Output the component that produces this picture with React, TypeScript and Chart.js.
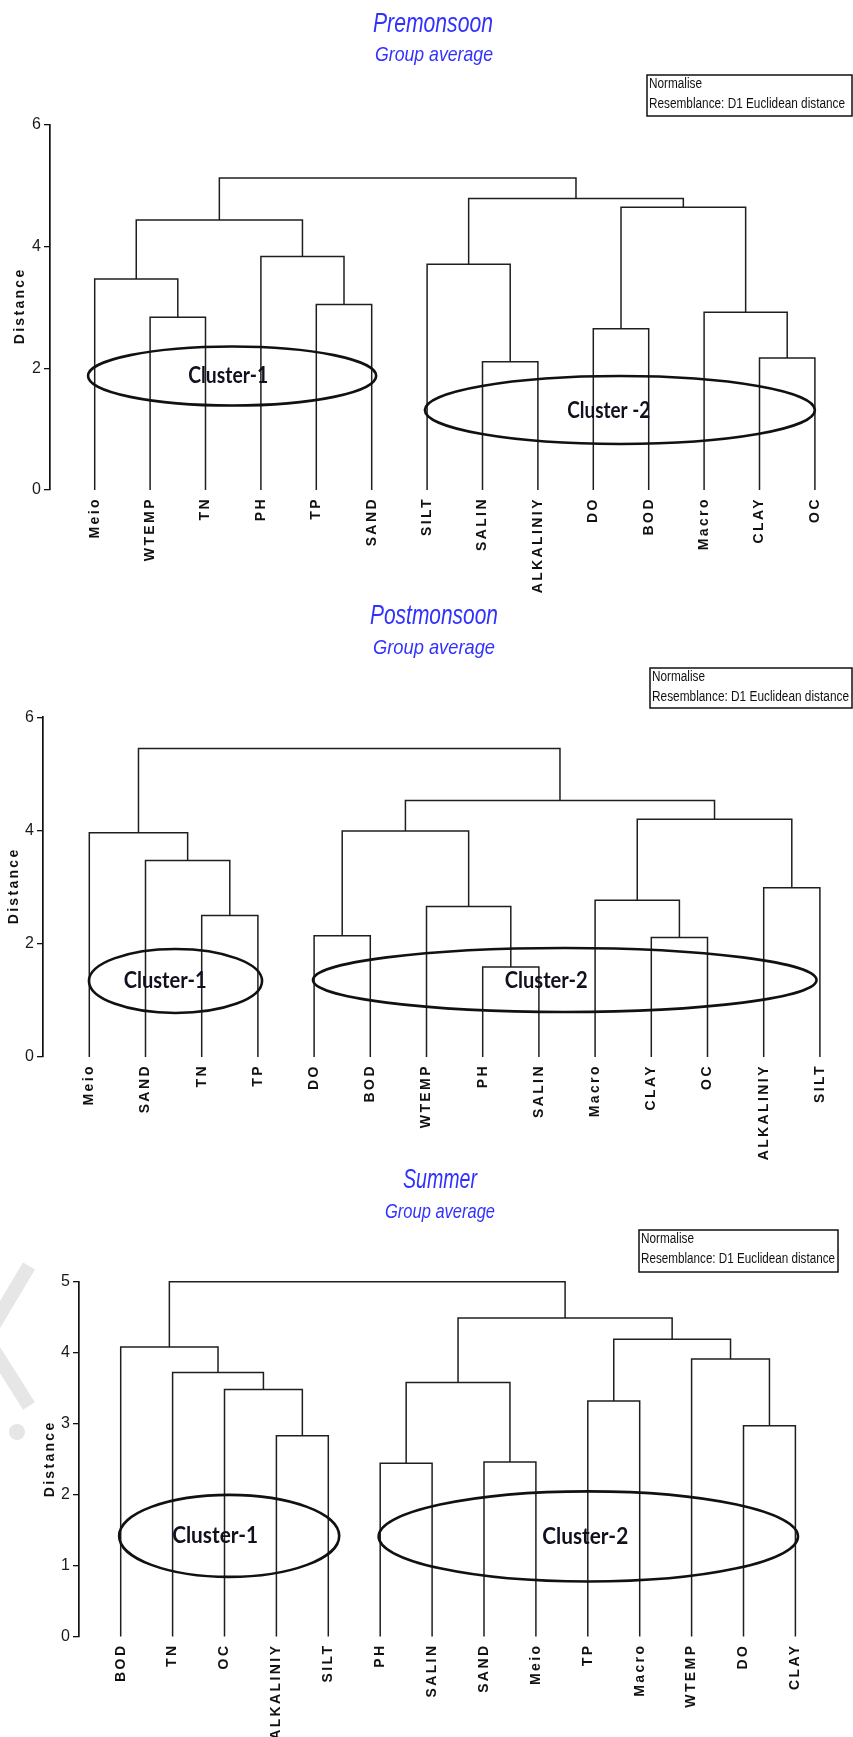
import React, { useEffect, useRef } from "react";
import { Chart, registerables } from "chart.js";

Chart.register(...registerables);

/* ------------------------------------------------------------------ */
/* DATA  (leaf order, merges in linkage form: child indices + height)  */
/* indices < 14 are leaves, 14 + k is the k-th merge                   */
/* ------------------------------------------------------------------ */

// Premonsoon
const preLeaves = ["Meio", "WTEMP", "TN", "PH", "TP", "SAND", "SILT", "SALIN", "ALKALINIY", "DO", "BOD", "Macro", "CLAY", "OC"];
const preLeft = [1, 0, 4, 3, 15, 7, 6, 9, 12, 11, 21, 20, 18];
const preRight = [2, 14, 5, 16, 17, 8, 19, 10, 13, 22, 23, 24, 25];
const preHeight = [2.84, 3.47, 3.05, 3.84, 4.44, 2.11, 3.71, 2.65, 2.17, 2.92, 4.65, 4.79, 5.13];
const preTicks = [0, 2, 4, 6];

// Postmonsoon
const postLeaves = ["Meio", "SAND", "TN", "TP", "DO", "BOD", "WTEMP", "PH", "SALIN", "Macro", "CLAY", "OC", "ALKALINIY", "SILT"];
const postLeft = [2, 1, 0, 4, 7, 6, 17, 10, 9, 12, 22, 20, 16];
const postRight = [3, 14, 15, 5, 8, 18, 19, 11, 21, 13, 23, 24, 25];
const postHeight = [2.5, 3.47, 3.96, 2.14, 1.59, 2.66, 3.99, 2.11, 2.77, 2.99, 4.2, 4.53, 5.45];
const postTicks = [0, 2, 4, 6];

// Summer
const sumLeaves = ["BOD", "TN", "OC", "ALKALINIY", "SILT", "PH", "SALIN", "SAND", "Meio", "TP", "Macro", "WTEMP", "DO", "CLAY"];
const sumLeft = [3, 2, 1, 0, 5, 7, 18, 9, 12, 11, 21, 20, 17];
const sumRight = [4, 14, 15, 16, 6, 8, 19, 10, 13, 22, 23, 24, 25];
const sumHeight = [2.83, 3.48, 3.72, 4.08, 2.44, 2.46, 3.58, 3.32, 2.97, 3.91, 4.19, 4.49, 5.0];
const sumTicks = [0, 1, 2, 3, 4, 5];

const subtitleText = "Group average";
const boxLine1 = "Normalise";
const boxLine2 = "Resemblance: D1 Euclidean distance";
const axisTitle = "Distance";

/* ------------------------------------------------------------------ */
/* LAYOUT / STYLE                                                      */
/* ------------------------------------------------------------------ */

const SANS = "'Liberation Sans', Arial, Helvetica, sans-serif";
const TITLE_COLOR = "#3131ff";
const LINE_COLOR = "#1f1f1f";
const PAGE_W = 853;
const PLOT_RIGHT = 848;

type Cluster = { text: string; cx: number; cy: number; rx: number; ry: number; tx: number; tw: number };
type Panel = {
  key: string;
  leaves: string[];
  left: number[];
  right: number[];
  heights: number[];
  ticks: number[];
  top: number;
  canvasH: number;
  axisX: number;
  plotTop: number;
  plotBottom: number;
  leaf0: number;
  leafStep: number;
  title: string;
  titleX: number;
  titleY: number;
  titleW: number;
  subX: number;
  subY: number;
  subW: number;
  box: { x: number; y: number; w: number; h: number; w2: number };
  distX: number;
  distY: number;
  clusters: Cluster[];
  watermark?: boolean;
};

const panels: Panel[] = [
  {
    key: "pre",
    leaves: preLeaves,
    left: preLeft,
    right: preRight,
    heights: preHeight,
    ticks: preTicks,
    top: 0,
    canvasH: 610,
    axisX: 50,
    plotTop: 125,
    plotBottom: 490,
    leaf0: 94.7,
    leafStep: 55.4,
    title: "Premonsoon",
    titleX: 433,
    titleY: 31.5,
    titleW: 120,
    subX: 434,
    subY: 61,
    subW: 118,
    box: { x: 647, y: 75, w: 205, h: 41, w2: 196 },
    distX: 20,
    distY: 307,
    clusters: [
      { text: "Cluster-1", cx: 2.48, cy: 1.874, rx: 2.6, ry: 0.485, tx: 2.41, tw: 80 },
      { text: "Cluster -2", cx: 9.48, cy: 1.315, rx: 3.52, ry: 0.56, tx: 9.28, tw: 83 },
    ],
  },
  {
    key: "post",
    leaves: postLeaves,
    left: postLeft,
    right: postRight,
    heights: postHeight,
    ticks: postTicks,
    top: 590,
    canvasH: 580,
    axisX: 43,
    plotTop: 717.3,
    plotBottom: 1057,
    leaf0: 89.3,
    leafStep: 56.2,
    title: "Postmonsoon",
    titleX: 434,
    titleY: 624,
    titleW: 128,
    subX: 434,
    subY: 654,
    subW: 122,
    box: { x: 650, y: 668, w: 202, h: 40, w2: 197 },
    distX: 14,
    distY: 887,
    clusters: [
      { text: "Cluster-1", cx: 1.534, cy: 1.343, rx: 1.54, ry: 0.565, tx: 1.35, tw: 83 },
      { text: "Cluster-2", cx: 8.46, cy: 1.36, rx: 4.48, ry: 0.565, tx: 8.13, tw: 83 },
    ],
  },
  {
    key: "sum",
    leaves: sumLeaves,
    left: sumLeft,
    right: sumRight,
    heights: sumHeight,
    ticks: sumTicks,
    top: 1150,
    canvasH: 587,
    axisX: 79,
    plotTop: 1281.7,
    plotBottom: 1636.5,
    leaf0: 120.7,
    leafStep: 51.9,
    title: "Summer",
    titleX: 440,
    titleY: 1188,
    titleW: 74,
    subX: 440,
    subY: 1218,
    subW: 110,
    box: { x: 639, y: 1230, w: 199, h: 42, w2: 194 },
    distX: 50,
    distY: 1460,
    clusters: [
      { text: "Cluster-1", cx: 2.09, cy: 1.418, rx: 2.12, ry: 0.578, tx: 1.82, tw: 86 },
      { text: "Cluster-2", cx: 9.01, cy: 1.41, rx: 4.04, ry: 0.635, tx: 8.95, tw: 86 },
    ],
    watermark: true,
  },
];

/* ------------------------------------------------------------------ */
/* HELPERS                                                             */
/* ------------------------------------------------------------------ */

function buildDatasets(p: Panel) {
  const n = p.leaves.length;
  const nodeX: number[] = p.leaves.map((_, i) => i);
  const nodeH: number[] = p.leaves.map(() => 0);
  const sets: any[] = [];
  for (let k = 0; k < p.heights.length; k++) {
    const a = p.left[k];
    const b = p.right[k];
    const h = p.heights[k];
    sets.push({
      data: [
        { x: nodeX[a], y: nodeH[a] },
        { x: nodeX[a], y: h },
        { x: nodeX[b], y: h },
        { x: nodeX[b], y: nodeH[b] },
      ],
      showLine: true,
      borderColor: LINE_COLOR,
      borderWidth: 1.5,
      borderJoinStyle: "miter",
      pointRadius: 0,
      pointHoverRadius: 0,
      fill: false,
      tension: 0,
      clip: false,
    });
    nodeX[n + k] = (nodeX[a] + nodeX[b]) / 2;
    nodeH[n + k] = h;
  }
  return sets;
}

function fitText(ctx: CanvasRenderingContext2D, text: string, x: number, y: number, font: string, width: number, align: CanvasTextAlign) {
  ctx.save();
  ctx.font = font;
  const w = ctx.measureText(text).width || 1;
  ctx.translate(x, y);
  ctx.scale(width / w, 1);
  ctx.textAlign = align;
  ctx.textBaseline = "alphabetic";
  ctx.fillText(text, 0, 0);
  ctx.restore();
}

function makePlugin(p: Panel) {
  return {
    id: "decor_" + p.key,
    beforeDraw(chart: any) {
      if (!p.watermark) return;
      const ctx: CanvasRenderingContext2D = chart.ctx;
      const oy = p.top;
      ctx.save();
      ctx.strokeStyle = "#e6e6e6";
      ctx.fillStyle = "#e6e6e6";
      ctx.lineWidth = 14;
      ctx.lineJoin = "miter";
      ctx.beginPath();
      ctx.moveTo(29, 1266 - oy);
      ctx.lineTo(-14, 1338 - oy);
      ctx.lineTo(29, 1406 - oy);
      ctx.stroke();
      ctx.beginPath();
      ctx.arc(17, 1432 - oy, 8, 0, Math.PI * 2);
      ctx.fill();
      ctx.restore();
    },
    afterDraw(chart: any) {
      const ctx: CanvasRenderingContext2D = chart.ctx;
      const xs = chart.scales.x;
      const ys = chart.scales.y;
      const oy = p.top;

      // titles
      ctx.save();
      ctx.fillStyle = TITLE_COLOR;
      fitText(ctx, p.title, p.titleX, p.titleY - oy, `italic 28px ${SANS}`, p.titleW, "center");
      fitText(ctx, subtitleText, p.subX, p.subY - oy, `italic 21px ${SANS}`, p.subW, "center");
      ctx.restore();

      // info box
      ctx.save();
      ctx.strokeStyle = "#111";
      ctx.lineWidth = 1.5;
      ctx.strokeRect(p.box.x, p.box.y - oy, p.box.w, p.box.h);
      ctx.fillStyle = "#111";
      fitText(ctx, boxLine1, p.box.x + 2, p.box.y + 12.5 - oy, `14px ${SANS}`, 53, "left");
      fitText(ctx, boxLine2, p.box.x + 2, p.box.y + 32.5 - oy, `14px ${SANS}`, p.box.w2, "left");
      ctx.restore();

      // axis title
      ctx.save();
      ctx.fillStyle = "#111";
      ctx.font = `bold 14px ${SANS}`;
      (ctx as any).letterSpacing = "2.3px";
      ctx.translate(p.distX, p.distY - oy);
      ctx.rotate(-Math.PI / 2);
      ctx.textAlign = "center";
      ctx.textBaseline = "middle";
      ctx.fillText(axisTitle, 1.15, 0);
      (ctx as any).letterSpacing = "0px";
      ctx.restore();

      // leaf labels
      const yBase = ys.getPixelForValue(0) + 9.5;
      ctx.save();
      ctx.fillStyle = "#111";
      ctx.font = `bold 14px ${SANS}`;
      (ctx as any).letterSpacing = "2.4px";
      p.leaves.forEach((lab, i) => {
        const px = xs.getPixelForValue(i);
        ctx.save();
        ctx.translate(px, yBase);
        ctx.rotate(-Math.PI / 2);
        ctx.textAlign = "right";
        ctx.textBaseline = "middle";
        ctx.fillText(lab, 2.4, 0);
        ctx.restore();
      });
      (ctx as any).letterSpacing = "0px";
      ctx.restore();

      // cluster ellipses + labels
      p.clusters.forEach((c) => {
        const cx = xs.getPixelForValue(c.cx);
        const cy = ys.getPixelForValue(c.cy);
        const rx = Math.abs(xs.getPixelForValue(c.cx + c.rx) - cx);
        const ry = Math.abs(ys.getPixelForValue(c.cy + c.ry) - cy);
        ctx.save();
        ctx.strokeStyle = "#111";
        ctx.lineWidth = 2.6;
        ctx.beginPath();
        ctx.ellipse(cx, cy, rx, ry, 0, 0, Math.PI * 2);
        ctx.stroke();
        ctx.fillStyle = "#10101e";
        fitText(ctx, c.text, xs.getPixelForValue(c.tx), cy + 7.5, "bold 22px Lato, 'Open Sans', sans-serif", c.tw, "center");
        ctx.restore();
      });
    },
  };
}

function buildConfig(p: Panel): any {
  const xMin = -(p.leaf0 - p.axisX) / p.leafStep;
  const xMax = (PLOT_RIGHT - p.leaf0) / p.leafStep;
  const yMax = p.ticks[p.ticks.length - 1];
  return {
    type: "scatter",
    data: { datasets: buildDatasets(p) },
    options: {
      animation: false,
      responsive: false,
      maintainAspectRatio: false,
      events: [],
      layout: {
        padding: {
          left: 0,
          right: PAGE_W - PLOT_RIGHT,
          top: p.plotTop - p.top,
          bottom: p.canvasH - (p.plotBottom - p.top),
        },
      },
      plugins: {
        legend: { display: false },
        title: { display: false },
        tooltip: { enabled: false },
      },
      scales: {
        x: {
          type: "linear",
          display: false,
          min: xMin,
          max: xMax,
        },
        y: {
          type: "linear",
          position: "left",
          min: 0,
          max: yMax,
          afterFit: (scale: any) => {
            scale.width = p.axisX;
          },
          afterBuildTicks: (scale: any) => {
            scale.ticks = p.ticks.map((v) => ({ value: v }));
          },
          grid: {
            display: true,
            drawOnChartArea: false,
            drawTicks: true,
            tickLength: 6,
            color: "#111",
            lineWidth: 1.3,
          },
          border: { display: true, color: "#111", width: 1.7 },
          ticks: {
            color: "#1a1a1a",
            padding: 3,
            font: { family: SANS, size: 16 },
            callback: (v: any) => String(v),
          },
        },
      },
    },
    plugins: [makePlugin(p)],
  };
}

function DendroPanel({ panel }: { panel: Panel }) {
  const ref = useRef<HTMLCanvasElement | null>(null);
  useEffect(() => {
    if (!ref.current) return;
    const chart = new Chart(ref.current, buildConfig(panel));
    return () => chart.destroy();
  }, [panel]);
  return (
    <canvas
      ref={ref}
      width={PAGE_W}
      height={panel.canvasH}
      style={{
        position: "absolute",
        left: 0,
        top: panel.top,
        width: PAGE_W,
        height: panel.canvasH,
      }}
    />
  );
}

export default function App() {
  return (
    <div>
      {panels.map((p) => (
        <DendroPanel key={p.key} panel={p} />
      ))}
    </div>
  );
}
